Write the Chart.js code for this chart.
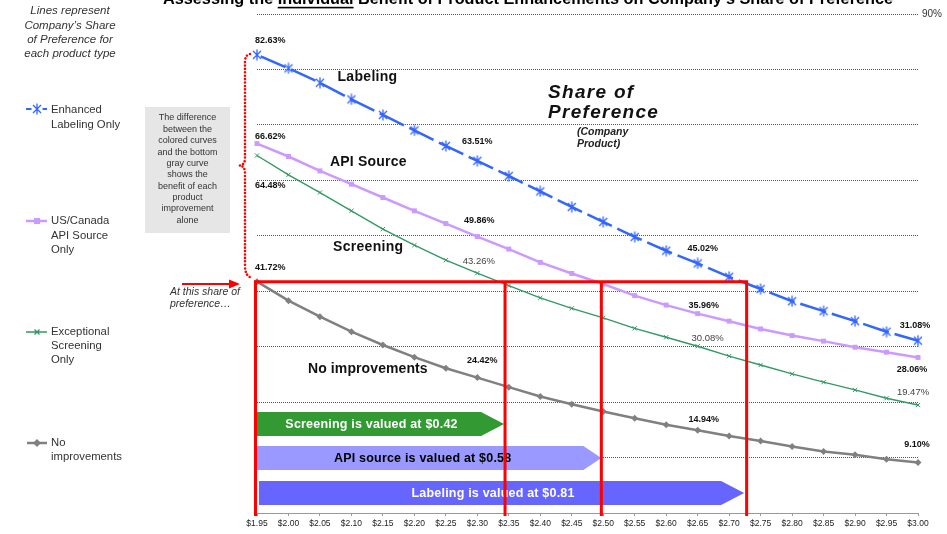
<!DOCTYPE html>
<html>
<head>
<meta charset="utf-8">
<script src="https://cdn.jsdelivr.net/npm/chart.js@4/dist/chart.umd.min.js"></script>
<style>
html,body{margin:0;padding:0;background:#fff;overflow:hidden}
#wrap{width:947px;height:534px;position:relative}
</style>
</head>
<body>
<div id="wrap"><canvas id="c" width="947" height="534"></canvas></div>
<script>
// ---------- DATA ----------
const prices = ['$1.95','$2.00','$2.05','$2.10','$2.15','$2.20','$2.25','$2.30','$2.35','$2.40','$2.45',
                '$2.50','$2.55','$2.60','$2.65','$2.70','$2.75','$2.80','$2.85','$2.90','$2.95','$3.00'];
const labelingOnly   = [82.63,80.2,77.6,74.6,71.8,69.0,66.2,63.51,60.8,58.0,55.2,52.5,49.8,47.3,45.02,42.6,40.4,38.2,36.4,34.6,32.7,31.08];
const apiSourceOnly  = [66.62,64.3,61.7,59.3,56.9,54.5,52.2,49.86,47.6,45.2,43.2,41.3,39.2,37.5,35.96,34.6,33.2,32.0,31.0,29.9,29.0,28.06];
const screeningOnly  = [64.48,61.0,57.8,54.5,51.2,48.3,45.6,43.26,41.0,38.8,36.9,35.2,33.3,31.7,30.08,28.3,26.7,25.1,23.6,22.2,20.7,19.47];
const noImprovements = [41.72,38.3,35.4,32.7,30.3,28.1,26.1,24.42,22.7,21.0,19.6,18.3,17.1,15.9,14.94,13.9,13.0,12.0,11.1,10.5,9.7,9.10];
const seriesNames = ['Enhanced Labeling Only','US/Canada API Source Only','Exceptional Screening Only','No improvements'];
const yTickShown = [90];
// price at which each improved product reaches the base share of preference
const equalSharePrices = [2.344, 2.497, 2.727];   // screening, API source, labeling
const valuationTexts = ['Screening is valued at $0.42','API source is valued at $0.58','Labeling is valued at $0.81'];

// ---------- STYLE / LAYOUT ----------
const FONT = "'Liberation Sans', Arial, sans-serif";
const priceStart = 1.95, priceStep = 0.05;

function starMarker(color){
  const c = document.createElement('canvas'); c.width = 12; c.height = 12;
  const g = c.getContext('2d'); g.strokeStyle = color; g.lineWidth = 1.3;
  g.beginPath();
  g.moveTo(2,2); g.lineTo(10,10); g.moveTo(10,2); g.lineTo(2,10);
  g.moveTo(6,0.5); g.lineTo(6,11.5);
  g.stroke();
  return c;
}
const BLUE = '#3366ff', PURPLE = '#cc99ff', GREEN = '#339966', GRAY = '#808080';

// data label placement: series index, point index, dx, dy, bold, align
const labelSpecs = [
  [0,0,-2,-14,true,'left'],[0,7,0,-19,true,'center'],[0,14,5,-15,true,'center'],[0,21,-3,-15,true,'center'],
  [1,0,-2,-7,true,'left'],[1,7,2,-16,true,'center'],[1,14,6,-8,true,'center'],[1,21,-6,12,true,'center'],
  [2,0,-2,30,true,'left'],[2,7,1.5,-12,false,'center'],[2,14,10,-8,false,'center'],[2,21,-5,-13,false,'center'],
  [3,0,-2,-14,true,'left'],[3,7,5,-17,true,'center'],[3,14,6,-11,true,'center'],[3,21,-1,-18.5,true,'center']
];

function txt(ctx, s, x, y, font, color, align, spacing){
  ctx.save();
  ctx.font = font; ctx.fillStyle = color || '#000';
  ctx.textAlign = align || 'left'; ctx.textBaseline = 'middle';
  if (spacing) ctx.letterSpacing = spacing + 'px';
  ctx.fillText(s, x, y);
  ctx.restore();
}

const annotations = {
  id: 'annotations',
  afterDraw(chart){
    const ctx = chart.ctx;
    const xs = chart.scales.x, ys = chart.scales.y;
    const xOf = p => xs.getPixelForValue((p - priceStart) / priceStep);
    const x0 = xs.getPixelForValue(0);
    const baseY = ys.getPixelForValue(noImprovements[0]);

    // ---- Title (partly cut at top) ----
    ctx.save();
    const t1 = 'Assessing the ', t2 = 'Individual', t3 = ' Benefit of Product Enhancements on Company\u2019s Share of Preference';
    ctx.font = 'bold 16px ' + FONT;
    const wTot = ctx.measureText(t1 + t2 + t3).width;
    const sx = 730 / wTot;
    ctx.translate(163, 4); ctx.scale(sx, 1);
    ctx.fillStyle = '#000'; ctx.textBaseline = 'alphabetic';
    ctx.fillText(t1 + t2 + t3, 0, 0);
    const a = ctx.measureText(t1).width, b = ctx.measureText(t2).width;
    ctx.fillRect(a, 2.8, b, 1.6);
    ctx.restore();

    // ---- Left legend ----
    txt(ctx, 'Lines represent', 70, 11, 'italic 11.5px ' + FONT, '#333', 'center');
    txt(ctx, 'Company\u2019s Share', 70, 25.5, 'italic 11.5px ' + FONT, '#333', 'center');
    txt(ctx, 'of Preference for', 70, 39.5, 'italic 11.5px ' + FONT, '#333', 'center');
    txt(ctx, 'each product type', 70, 53.5, 'italic 11.5px ' + FONT, '#333', 'center');
    const lf = '11.3px ' + FONT;
    // blue
    ctx.save(); ctx.strokeStyle = BLUE; ctx.lineWidth = 2;
    ctx.beginPath(); ctx.moveTo(26,109); ctx.lineTo(31.5,109); ctx.moveTo(42.5,109); ctx.lineTo(47,109); ctx.stroke();
    ctx.drawImage(starMarker(BLUE), 31, 103);
    ctx.restore();
    txt(ctx, 'Enhanced', 51, 109.5, lf, '#333');
    txt(ctx, 'Labeling Only', 51, 124.5, lf, '#333');
    // purple
    ctx.save(); ctx.strokeStyle = PURPLE; ctx.lineWidth = 2.5;
    ctx.beginPath(); ctx.moveTo(26,221); ctx.lineTo(47,221); ctx.stroke();
    ctx.fillStyle = PURPLE; ctx.fillRect(34,218,6,6);
    ctx.restore();
    txt(ctx, 'US/Canada', 51, 221, lf, '#333');
    txt(ctx, 'API Source', 51, 235.5, lf, '#333');
    txt(ctx, 'Only', 51, 249.5, lf, '#333');
    // green
    ctx.save(); ctx.strokeStyle = GREEN; ctx.lineWidth = 1.3;
    ctx.beginPath(); ctx.moveTo(26,332); ctx.lineTo(47,332);
    ctx.moveTo(34.5,329.5); ctx.lineTo(39.5,334.5); ctx.moveTo(39.5,329.5); ctx.lineTo(34.5,334.5); ctx.stroke();
    ctx.restore();
    txt(ctx, 'Exceptional', 51, 332, lf, '#333');
    txt(ctx, 'Screening', 51, 346, lf, '#333');
    txt(ctx, 'Only', 51, 360, lf, '#333');
    // gray
    ctx.save(); ctx.strokeStyle = GRAY; ctx.lineWidth = 2.5;
    ctx.beginPath(); ctx.moveTo(27,443); ctx.lineTo(47,443); ctx.stroke();
    ctx.fillStyle = GRAY; ctx.beginPath(); ctx.moveTo(37,439); ctx.lineTo(41,443); ctx.lineTo(37,447); ctx.lineTo(33,443); ctx.closePath(); ctx.fill();
    ctx.restore();
    txt(ctx, 'No', 51, 443, lf, '#333');
    txt(ctx, 'improvements', 51, 457, lf, '#333');

    // ---- Gray note box ----
    ctx.save(); ctx.fillStyle = '#e6e6e6'; ctx.fillRect(145,107,85,126); ctx.restore();
    const noteLines = ['The difference','between the','colored curves','and the bottom','gray curve','shows the','benefit of each','product','improvement','alone'];
    noteLines.forEach((l,i) => txt(ctx, l, 187.5, 118 + i*11.35, '9px ' + FONT, '#333', 'center'));

    // ---- Red dotted brace ----
    ctx.save(); ctx.strokeStyle = '#ff0000'; ctx.lineWidth = 2.6; ctx.lineCap = 'round'; ctx.setLineDash([0.01, 3.4]);
    ctx.beginPath();
    ctx.moveTo(250, 54); ctx.quadraticCurveTo(245, 55, 245, 62);
    ctx.lineTo(245, 158); ctx.quadraticCurveTo(245, 165, 239.5, 165.5);
    ctx.quadraticCurveTo(245, 166, 245, 173);
    ctx.lineTo(245, 266); ctx.quadraticCurveTo(245, 276, 252, 278);
    ctx.stroke(); ctx.restore();

    // ---- Red arrow + note ----
    ctx.save(); ctx.strokeStyle = '#ff0000'; ctx.fillStyle = '#ff0000'; ctx.lineWidth = 2;
    ctx.beginPath(); ctx.moveTo(182, 284); ctx.lineTo(231, 284); ctx.stroke();
    ctx.beginPath(); ctx.moveTo(240, 284); ctx.lineTo(229, 279.5); ctx.lineTo(229, 288.5); ctx.closePath(); ctx.fill();
    ctx.restore();
    txt(ctx, 'At this share of', 170, 292.5, 'italic 10.5px ' + FONT, '#333');
    txt(ctx, 'preference\u2026', 170, 304, 'italic 10.5px ' + FONT, '#333');

    // ---- Valuation banners ----
    const banners = [
      {x: x0 - 1, tip: xOf(equalSharePrices[0]) - 1, top: 412, h: 24, head: 23, fill: '#339933', color: '#ffffff'},
      {x: x0 - 1, tip: xOf(equalSharePrices[1]), top: 446, h: 24, head: 18, fill: '#9999ff', color: '#000000'},
      {x: x0 + 2, tip: xOf(equalSharePrices[2]) - 2, top: 481, h: 24, head: 23, fill: '#6666ff', color: '#ffffff'}
    ];
    banners.forEach((bn, i) => {
      ctx.save(); ctx.fillStyle = bn.fill;
      ctx.beginPath();
      ctx.moveTo(bn.x, bn.top); ctx.lineTo(bn.tip - bn.head, bn.top); ctx.lineTo(bn.tip, bn.top + bn.h/2);
      ctx.lineTo(bn.tip - bn.head, bn.top + bn.h); ctx.lineTo(bn.x, bn.top + bn.h); ctx.closePath(); ctx.fill();
      ctx.restore();
      txt(ctx, valuationTexts[i], (bn.x + bn.tip - bn.head)/2 + 3, bn.top + bn.h/2 + 0.5, 'bold 12.5px ' + FONT, bn.color, 'center', 0.2);
    });

    // ---- Red outline lines ----
    ctx.save(); ctx.strokeStyle = '#ff0000'; ctx.lineWidth = 3;
    const xl = x0 - 1.5, xr = xOf(equalSharePrices[2]) + 0.5, yb = 516;
    ctx.beginPath();
    ctx.moveTo(xl, yb); ctx.lineTo(xl, baseY); ctx.lineTo(xr, baseY); ctx.lineTo(xr, yb);
    ctx.moveTo(xOf(equalSharePrices[0]), baseY); ctx.lineTo(xOf(equalSharePrices[0]), yb);
    ctx.moveTo(xOf(equalSharePrices[1]), baseY); ctx.lineTo(xOf(equalSharePrices[1]), yb);
    ctx.stroke(); ctx.restore();

    // ---- Data labels ----
    const all = [labelingOnly, apiSourceOnly, screeningOnly, noImprovements];
    labelSpecs.forEach(([s, i, dx, dy, bold, align]) => {
      const v = all[s][i];
      const px = xs.getPixelForValue(i) + dx, py = ys.getPixelForValue(v) + dy;
      txt(ctx, v.toFixed(2) + '%', px, py, (bold ? 'bold 9px ' : '9.5px ') + FONT, bold ? '#111' : '#444', align);
    });

    // ---- Series name labels ----
    const sf = 'bold 14px ' + FONT;
    txt(ctx, 'Labeling', 337.5, 77.5, sf, '#111', 'left', 0.3);
    txt(ctx, 'API Source', 330, 162, sf, '#111', 'left', 0.2);
    txt(ctx, 'Screening', 333, 247, sf, '#111', 'left', 0.3);
    txt(ctx, 'No improvements', 308, 369.5, sf, '#111', 'left', 0.1);
    txt(ctx, 'Share of', 548, 93, 'bold italic 19px ' + FONT, '#111', 'left', 1.3);
    txt(ctx, 'Preference', 548, 113, 'bold italic 19px ' + FONT, '#111', 'left', 1.3);
    txt(ctx, '(Company', 577, 132, 'bold italic 10.5px ' + FONT, '#222', 'left');
    txt(ctx, 'Product)', 577, 144, 'bold italic 10.5px ' + FONT, '#222', 'left');
  }
};

new Chart(document.getElementById('c'), {
  type: 'line',
  data: {
    labels: prices,
    datasets: [
      {label: seriesNames[0], data: labelingOnly, borderColor: BLUE, borderWidth: 2.5, borderDash: [27, 6], borderDashOffset: -4,
       pointStyle: starMarker(BLUE), pointRadius: 6, backgroundColor: BLUE, clip: false},
      {label: seriesNames[1], data: apiSourceOnly, borderColor: PURPLE, borderWidth: 2.5, pointStyle: 'rect', pointRadius: 3.5,
       pointBackgroundColor: PURPLE, pointBorderColor: PURPLE, pointBorderWidth: 0, clip: false},
      {label: seriesNames[2], data: screeningOnly, borderColor: GREEN, borderWidth: 1.4, pointStyle: 'crossRot', pointRadius: 3,
       pointBorderColor: GREEN, pointBorderWidth: 1, clip: false},
      {label: seriesNames[3], data: noImprovements, borderColor: GRAY, borderWidth: 2.5, pointStyle: 'rectRot', pointRadius: 3.5,
       pointBackgroundColor: GRAY, pointBorderColor: GRAY, pointBorderWidth: 0, clip: false}
    ]
  },
  options: {
    responsive: false, animation: false, devicePixelRatio: 1,
    layout: {padding: {left: 257, top: 14, right: 0, bottom: 0}},
    plugins: {legend: {display: false}, tooltip: {enabled: false}, title: {display: false}},
    scales: {
      x: {
        type: 'category', offset: false,
        grid: {display: true, drawOnChartArea: false, drawTicks: true, tickLength: 3, color: '#999', offset: false},
        border: {display: true, color: '#999', width: 1},
        ticks: {font: {size: 8.5, family: FONT}, color: '#222', maxRotation: 0, minRotation: 0, autoSkip: false, padding: 3},
        afterFit: s => { s.height = 21; }
      },
      y: {
        position: 'right', min: 0, max: 90,
        ticks: {stepSize: 10, font: {size: 10, family: FONT}, color: '#333', padding: 4,
                callback: v => yTickShown.includes(v) ? v + '%' : ''},
        grid: {drawTicks: false, lineWidth: 1, color: c => c.tick && c.tick.value === 0 ? 'rgba(0,0,0,0)' : '#555'},
        border: {display: false, dash: [1, 1]},
        afterFit: s => { s.width = 29; }
      }
    }
  },
  plugins: [annotations]
});
</script>
</body>
</html>
